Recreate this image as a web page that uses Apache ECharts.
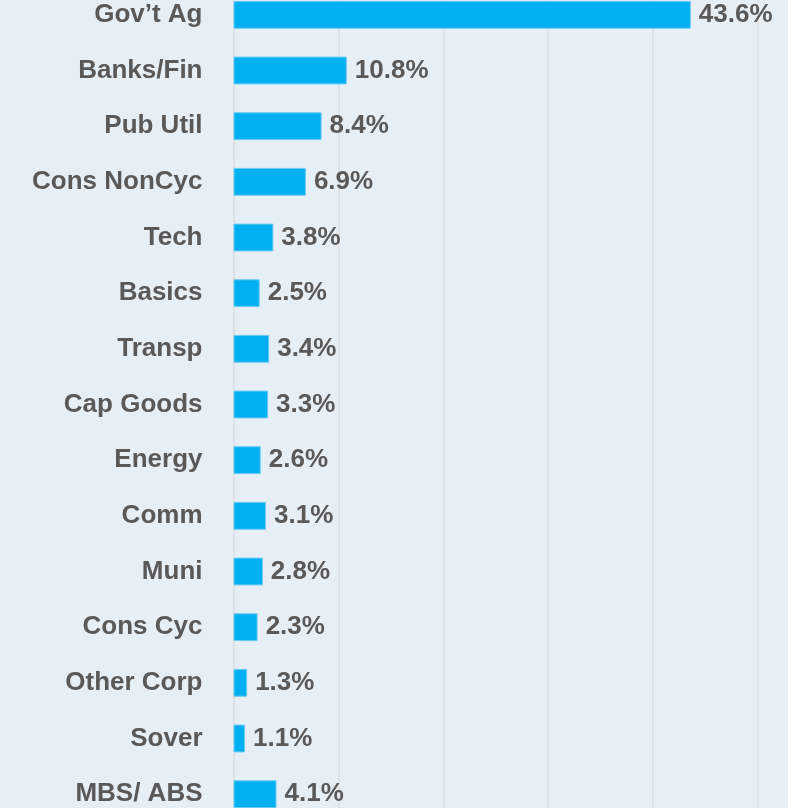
<!DOCTYPE html>
<html>
<head>
<meta charset="utf-8">
<script src="https://cdn.jsdelivr.net/npm/echarts@6/dist/echarts.min.js"></script>
<style>
  html, body { margin: 0; padding: 0; background: #ffffff; overflow: hidden; }
  #wrap { width: 788px; height: 808px; overflow: hidden; position: relative; }
  /* the plot runs past the top and bottom of the picture, so the chart box is taller and shifted up */
  #chart { position: absolute; left: 0; top: -13px; width: 788px; height: 835px; }
</style>
</head>
<body>
<div id="wrap"><div id="chart"></div></div>
<script>
  // sectors, top to bottom
  const categories = ['Gov\u2019t Ag', 'Banks/Fin', 'Pub Util', 'Cons NonCyc', 'Tech', 'Basics', 'Transp',
    'Cap Goods', 'Energy', 'Comm', 'Muni', 'Cons Cyc', 'Other Corp', 'Sover', 'MBS/ ABS'];
  // weight in %
  const weights = [43.6, 10.8, 8.4, 6.9, 3.8, 2.5, 3.4, 3.3, 2.6, 3.1, 2.8, 2.3, 1.3, 1.1, 4.1];

  const textColor = '#595959';
  const chart = echarts.init(document.getElementById('chart'));

  chart.setOption({
    backgroundColor: '#E6EEF6',
    animation: false,
    grid: {
      left: 233.5,
      right: 30,
      top: 0,
      bottom: 0
    },
    xAxis: {
      type: 'value',
      min: 0,
      max: 50,
      interval: 10,
      axisLabel: { show: false },
      axisLine: { show: false },
      axisTick: { show: false },
      splitLine: { lineStyle: { color: '#DCE0E4', width: 1.5 } }
    },
    yAxis: {
      type: 'category',
      inverse: true,
      data: categories,
      axisTick: { show: false },
      axisLine: { show: true, lineStyle: { color: '#DCE0E4', width: 1.5 } },
      axisLabel: {
        margin: 31,
        padding: [4, 0, 0, 0],
        color: textColor,
        fontFamily: 'Liberation Sans, Arial, sans-serif',
        fontWeight: 'bold',
        fontSize: 26
      }
    },
    series: [
      {
        type: 'bar',
        data: weights,
        barWidth: '50%',
        itemStyle: {
          color: '#00B0F0',
          borderColor: '#6CCBF3',
          borderWidth: 1
        },
        label: {
          show: true,
          position: 'right',
          distance: 8,
          padding: [4, 0, 0, 0],
          color: textColor,
          fontFamily: 'Liberation Sans, Arial, sans-serif',
          fontWeight: 'bold',
          fontSize: 26,
          formatter: p => p.value.toFixed(1) + '%'
        }
      }
    ]
  });
</script>
</body>
</html>
